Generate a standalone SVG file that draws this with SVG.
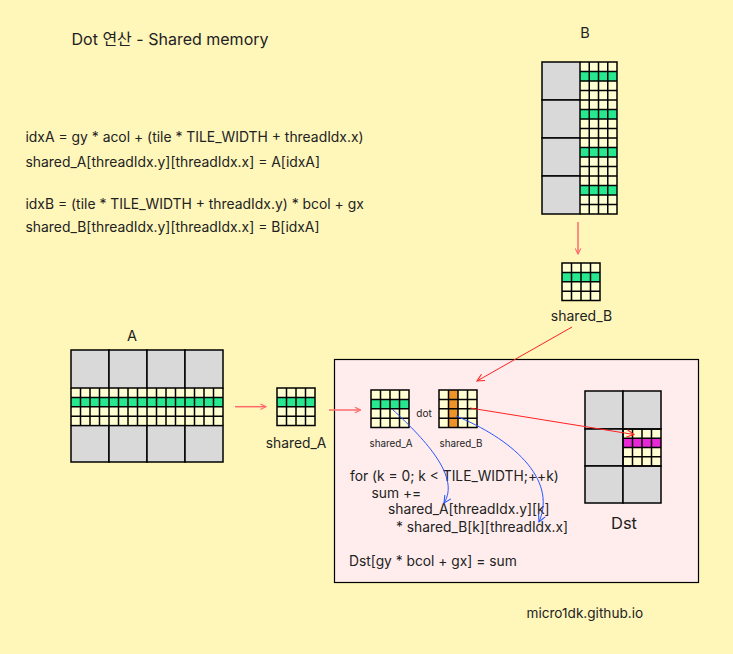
<svg xmlns="http://www.w3.org/2000/svg" width="733" height="654" viewBox="0 0 733 654">
<defs>
<style>
text{font-family:Inter,"Noto Sans","Noto Sans CJK KR",sans-serif;fill:#222}
.g{fill:#d9d9d9;stroke:#000;stroke-width:1.5}
.c{fill:#ffffd1}
.gr{fill:#27e88f}
.ln{fill:none;stroke:#000;stroke-width:1.5}
.sa{fill:none;stroke:#ff6b6b;stroke-width:1.5}
.rd{fill:none;stroke:#ff2222;stroke-width:1}
.bl{fill:none;stroke:#2a55ff;stroke-width:1}
</style>
<marker id="ms" viewBox="0 0 10 10" refX="9" refY="5" markerWidth="7" markerHeight="7" markerUnits="userSpaceOnUse" orient="auto"><path d="M1,1 L9,5 L1,9" fill="none" stroke="#ff6b6b" stroke-width="1.6"/></marker>
<marker id="mr" viewBox="0 0 10 10" refX="9" refY="5" markerWidth="9" markerHeight="9" markerUnits="userSpaceOnUse" orient="auto"><path d="M1,1 L9,5 L1,9" fill="none" stroke="#ff2222" stroke-width="1.2"/></marker>
<marker id="mb" viewBox="0 0 10 10" refX="9" refY="5" markerWidth="9" markerHeight="9" markerUnits="userSpaceOnUse" orient="auto"><path d="M1,1 L9,5 L1,9" fill="none" stroke="#2a55ff" stroke-width="1.2"/></marker>
</defs>
<rect x="0" y="0" width="733" height="654" fill="#fff6ba"/>

<g id="texts">
<text x="71.5" y="45" font-size="16">Dot 연산 - Shared memory</text>
<text x="25.5" y="141.5" font-size="13.9">idxA = gy * acol + (tile * TILE_WIDTH + threadIdx.x)</text>
<text x="25.5" y="166.5" font-size="13.9">shared_A[threadIdx.y][threadIdx.x] = A[idxA]</text>
<text x="25.5" y="209" font-size="13.9">idxB = (tile * TILE_WIDTH + threadIdx.y) * bcol + gx</text>
<text x="25.5" y="232" font-size="13.9">shared_B[threadIdx.y][threadIdx.x] = B[idxA]</text>
<text x="526.5" y="618" font-size="13.6">micro1dk.github.io</text>
</g>

<g id="pinkbox">
<rect x="334.5" y="359.5" width="364" height="223" fill="#ffeded" stroke="#000" stroke-width="1.2"/>
</g>

<g id="matrixB">
<text x="585" y="38" font-size="14.5" text-anchor="middle">B</text>
<rect class="c" x="580" y="62" width="37" height="152"/>
<rect class="gr" x="580" y="71.5" width="37" height="9.5"/>
<rect class="gr" x="580" y="109.5" width="37" height="9.5"/>
<rect class="gr" x="580" y="147.5" width="37" height="9.5"/>
<rect class="gr" x="580" y="185.5" width="37" height="9.5"/>
<path class="ln" d="M580,62H617V214H580 M589.25,62V214 M598.5,62V214 M607.75,62V214 M580,71.5H617 M580,81H617 M580,90.5H617 M580,100H617 M580,109.5H617 M580,119H617 M580,128.5H617 M580,138H617 M580,147.5H617 M580,157H617 M580,166.5H617 M580,176H617 M580,185.5H617 M580,195H617 M580,204.5H617"/>
<rect class="g" x="542" y="62" width="38" height="38"/>
<rect class="g" x="542" y="100" width="38" height="38"/>
<rect class="g" x="542" y="138" width="38" height="38"/>
<rect class="g" x="542" y="176" width="38" height="38"/>
</g>

<g id="sharedB_top">
<rect class="c" x="562" y="263" width="38" height="37.6"/>
<rect class="gr" x="562" y="272.4" width="38" height="9.4"/>
<path class="ln" d="M562,263H600V300.6H562Z M571.5,263V300.6 M581,263V300.6 M590.5,263V300.6 M562,272.4H600 M562,281.8H600 M562,291.2H600"/>
<text x="581.5" y="321" font-size="14" text-anchor="middle">shared_B</text>
</g>

<g id="matrixA">
<text x="132" y="341" font-size="14.5" text-anchor="middle">A</text>
<rect class="c" x="71" y="388" width="152" height="37.6"/>
<rect class="gr" x="71" y="397.4" width="152" height="9.4"/>
<path class="ln" d="M71,388V425.6 M223,388V425.6 M71,397.4H223 M71,406.8H223 M71,416.2H223 M80.5,388V425.6 M90,388V425.6 M99.5,388V425.6 M109,388V425.6 M118.5,388V425.6 M128,388V425.6 M137.5,388V425.6 M147,388V425.6 M156.5,388V425.6 M166,388V425.6 M175.5,388V425.6 M185,388V425.6 M194.5,388V425.6 M204,388V425.6 M213.5,388V425.6"/>
<rect class="g" x="71" y="350" width="38" height="38"/>
<rect class="g" x="109" y="350" width="38" height="38"/>
<rect class="g" x="147" y="350" width="38" height="38"/>
<rect class="g" x="185" y="350" width="38" height="38"/>
<rect class="g" x="71" y="425.6" width="38" height="36.4"/>
<rect class="g" x="109" y="425.6" width="38" height="36.4"/>
<rect class="g" x="147" y="425.6" width="38" height="36.4"/>
<rect class="g" x="185" y="425.6" width="38" height="36.4"/>
</g>

<g id="sharedA_outer">
<rect class="c" x="277" y="388" width="38" height="37.6"/>
<rect class="gr" x="277" y="397.4" width="38" height="9.4"/>
<path class="ln" d="M277,388H315V425.6H277Z M286.5,388V425.6 M296,388V425.6 M305.5,388V425.6 M277,397.4H315 M277,406.8H315 M277,416.2H315"/>
<text x="296" y="448" font-size="13.8" text-anchor="middle">shared_A</text>
</g>

<g id="sharedA_inner">
<rect class="c" x="371" y="390" width="38" height="37.6"/>
<rect class="gr" x="371" y="399.4" width="38" height="9.4"/>
<path class="ln" d="M371,390H409V427.6H371Z M380.5,390V427.6 M390,390V427.6 M399.5,390V427.6 M371,399.4H409 M371,408.8H409 M371,418.2H409"/>
<text x="391" y="446.5" font-size="9.8" text-anchor="middle">shared_A</text>
</g>

<g id="dot">
<text x="424" y="416.5" font-size="10" text-anchor="middle">dot</text>
</g>

<g id="sharedB_inner">
<rect class="c" x="439" y="390" width="38" height="37.6"/>
<rect x="448.5" y="390" width="9.5" height="37.6" fill="#ec9428"/>
<path class="ln" d="M439,390H477V427.6H439Z M448.5,390V427.6 M458,390V427.6 M467.5,390V427.6 M439,399.4H477 M439,408.8H477 M439,418.2H477"/>
<text x="461" y="447" font-size="9.8" text-anchor="middle">shared_B</text>
</g>

<g id="dst">
<rect class="c" x="623" y="429" width="38" height="37"/>
<rect x="623" y="438.25" width="38" height="9.25" fill="#e827d6"/>
<path class="ln" d="M632.5,429V466 M642,429V466 M651.5,429V466 M623,438.25H661 M623,447.5H661 M623,456.75H661"/>
<rect class="g" x="585" y="391" width="38" height="38"/>
<rect class="g" x="623" y="391" width="38" height="38"/>
<rect class="g" x="585" y="429" width="38" height="37"/>
<rect class="g" x="585" y="466" width="38" height="37"/>
<rect class="g" x="623" y="466" width="38" height="37"/>
<rect x="623" y="429" width="38" height="37" fill="none" stroke="#000" stroke-width="1.5"/>
<text x="624" y="528.5" font-size="16.5" text-anchor="middle">Dst</text>
</g>

<g id="code">
<text x="350" y="481" font-size="13.8">for (k = 0; k &lt; TILE_WIDTH;++k)</text>
<text x="371.5" y="497.5" font-size="13.8">sum +=</text>
<text x="388" y="514" font-size="13.8">shared_A[threadIdx.y][k]</text>
<text x="396" y="531.5" font-size="13.8">* shared_B[k][threadIdx.x]</text>
<text x="349" y="565.5" font-size="13.8">Dst[gy * bcol + gx] = sum</text>
</g>

<g id="connectors">
<path class="sa" d="M235,406.7H266" marker-end="url(#ms)"/>
<path class="sa" d="M329,410H360.5" marker-end="url(#ms)"/>
<path class="sa" d="M578,222V254" marker-end="url(#ms)"/>
<path class="rd" d="M572,327L477,381" marker-end="url(#mr)"/>
<path class="rd" d="M470,408L634,434.5" marker-end="url(#mr)"/>
<path class="bl" d="M392,409C428,442 460,478 444,503" marker-end="url(#mb)"/>
<path class="bl" d="M456,416C510,438 558,478 539,522" marker-end="url(#mb)"/>
</g>
</svg>
